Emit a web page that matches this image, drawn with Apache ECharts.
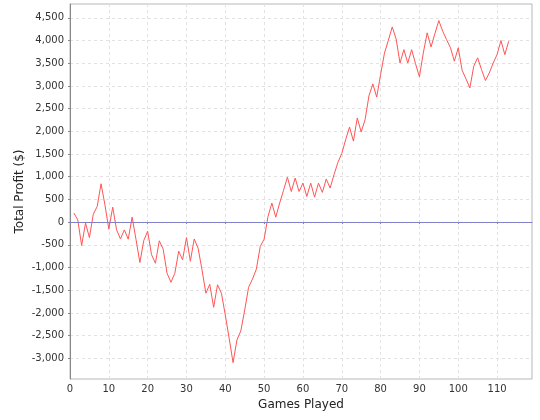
<!DOCTYPE html>
<html>
<head>
<meta charset="utf-8">
<script src="https://cdn.jsdelivr.net/npm/echarts@6/dist/echarts.min.js"></script>
<style>html,body{margin:0;padding:0;background:#fff}#c{width:540px;height:420px}</style>
</head>
<body>
<div id="c"></div>
<script>
var games = [];
for (var i = 1; i <= 113; i++) games.push(i);
var profit = [
  200, 50, -515, -20, -340, 175, 345, 845, 380, -155,
  330, -170, -370, -170, -375, 110, -380, -890, -405, -200,
  -715, -905, -410, -595, -1125, -1325, -1125, -640, -830, -340,
  -860, -370, -575, -1050, -1565, -1370, -1875, -1380, -1565, -2045,
  -2560, -3095, -2595, -2395, -1935, -1435, -1255, -1035, -535, -375,
  125, 420, 110, 420, 700, 990, 675, 970, 675, 860,
  565, 860, 550, 860, 655, 950, 750, 1045, 1315, 1510,
  1815, 2095, 1785, 2295, 1985, 2255, 2780, 3045, 2755, 3250,
  3725, 4005, 4300, 4035, 3505, 3800, 3505, 3800, 3490, 3200,
  3725, 4170, 3860, 4155, 4440, 4205, 4020, 3840, 3545, 3840,
  3345, 3155, 2955, 3435, 3620, 3360, 3120, 3285, 3505, 3690,
  4000, 3690, 3985
];
var xTicks = [0, 10, 20, 30, 40, 50, 60, 70, 80, 90, 100, 110];
var yTicks = [-3000, -2500, -2000, -1500, -1000, -500, 0, 500, 1000, 1500, 2000, 2500, 3000, 3500, 4000, 4500];

var data = games.map(function (g, i) { return [g, profit[i]]; });
var font = 'DejaVu Sans';
var chart = echarts.init(document.getElementById('c'), null, {renderer: 'canvas'});
chart.setOption({
  animation: false,
  grid: {left: 70, right: 8, top: 4, bottom: 41, show: true, borderColor: '#b8b8b8', borderWidth: 1, backgroundColor: '#fff'},
  xAxis: {
    type: 'value', min: 0, max: 119,
    name: 'Games Played', nameLocation: 'middle', nameGap: 20,
    nameTextStyle: {fontFamily: font, fontSize: 12, color: '#222'},
    axisLine: {show: true, lineStyle: {color: '#888', width: 1}},
    axisTick: {show: true, length: 2, customValues: xTicks, lineStyle: {color: '#888'}},
    axisLabel: {customValues: xTicks, fontFamily: font, fontSize: 10, color: '#333', margin: 5},
    splitLine: {show: true, lineStyle: {color: '#e2e2e2', type: [3, 3], width: 1}}
  },
  yAxis: {
    type: 'value', min: -3455, max: 4805,
    name: 'Total Profit ($)', nameLocation: 'middle', nameGap: 44, nameRotate: 90,
    nameMoveOverlap: false,
    nameTextStyle: {fontFamily: font, fontSize: 12, color: '#222'},
    axisLine: {show: true, lineStyle: {color: '#888', width: 1}},
    axisTick: {show: true, length: 2, customValues: yTicks, lineStyle: {color: '#888'}},
    axisLabel: {
      customValues: yTicks, fontFamily: font, fontSize: 10, color: '#333', margin: 6,
      formatter: function (v) { return v.toLocaleString('en-US'); }
    },
    splitLine: {show: true, lineStyle: {color: '#e2e2e2', type: [3, 3], width: 1}}
  },
  series: [{
    type: 'line', data: data, showSymbol: false, symbol: 'none',
    lineStyle: {color: '#ff5555', width: 1},
    markLine: {
      silent: true, symbol: 'none', label: {show: false},
      lineStyle: {color: '#7a7aff', type: [2, 2], width: 1},
      data: [{yAxis: 0}]
    }
  }]
});
</script>
</body>
</html>
